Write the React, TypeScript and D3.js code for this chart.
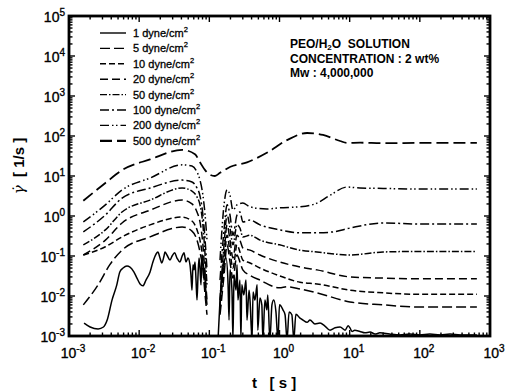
import React, { useEffect, useRef } from 'react';
import * as d3 from 'd3';

type Pt = [number, number];

// legend order (dyne/cm2)
const stressLabels = ['1', '5', '10', '20', '50', '100', '200', '500'];

// [t (s), shear rate (1/s)]
const g500: Pt[] = [[0.0016, 2.4], [0.0033, 6.7], [0.0057, 14], [0.0143, 26], [0.041, 45], [0.0625, 35], [0.0736, 22], [0.087, 14], [0.1, 11], [0.12, 10], [0.142, 12], [0.2, 17], [0.344, 22], [0.66, 38], [1.28, 79], [2.47, 119], [4.17, 106], [7.3, 75], [9.2, 67], [14, 68], [30, 66], [100, 67], [650, 67]];

const g200a: Pt[] = [[0.0016, 0.71], [0.0033, 1.9], [0.0057, 4.5], [0.0143, 8.9], [0.041, 19], [0.0566, 17.8], [0.0667, 12.6], [0.0736, 7.9], [0.081, 3.3], [0.087, 1.06], [0.0926, 0.25]];
const g200b: Pt[] = [[0.142, 0.079], [0.162, 1.9], [0.179, 4.5], [0.197, 3.3], [0.217, 1.4], [0.248, 1.9], [0.3, 2.1], [0.38, 1.7], [0.66, 1.5], [1.0, 1.6], [1.96, 1.7], [3.42, 2.1], [5.25, 3.3], [9.2, 5.3], [14, 5.0], [30, 4.9], [100, 4.7], [650, 4.7]];

const g100a: Pt[] = [[0.0016, 0.40], [0.0033, 1.06], [0.0057, 2.8], [0.0143, 5.0], [0.041, 7.9], [0.0566, 7.1], [0.0667, 5.0], [0.0736, 3.2], [0.081, 1.06], [0.087, 0.25], [0.0926, 0.045]];
const g100b: Pt[] = [[0.142, 0.025], [0.162, 0.45], [0.179, 1.9], [0.197, 1.06], [0.217, 0.33], [0.248, 1.06], [0.273, 1.26], [0.3, 0.71], [0.38, 0.79], [0.527, 0.6], [1.0, 0.45], [1.96, 0.38], [3.42, 0.38], [5.78, 0.40], [10.1, 0.5], [30, 0.67], [100, 0.63], [650, 0.63]];

const g50a: Pt[] = [[0.0016, 0.19], [0.0033, 0.45], [0.0057, 1.26], [0.0143, 2.5], [0.041, 5.0], [0.0566, 4.2], [0.0667, 3.0], [0.0736, 1.9], [0.081, 0.6], [0.087, 0.106], [0.0926, 0.019]];
const g50b: Pt[] = [[0.142, 0.0079], [0.162, 0.19], [0.179, 1.06], [0.197, 0.5], [0.217, 0.19], [0.248, 0.6], [0.273, 0.5], [0.3, 0.3], [0.38, 0.33], [0.527, 0.25], [1.0, 0.19], [1.96, 0.14], [3.42, 0.126], [10.1, 0.106], [30, 0.126], [100, 0.13], [650, 0.13]];

const g20a: Pt[] = [[0.0016, 0.106], [0.0033, 0.25], [0.0057, 0.67], [0.0143, 1.4], [0.041, 2.5], [0.0566, 2.0], [0.0667, 1.26], [0.0736, 0.71], [0.081, 0.19], [0.087, 0.033], [0.0926, 0.0079]];
const g20b: Pt[] = [[0.142, 0.006], [0.162, 0.106], [0.179, 0.6], [0.197, 0.25], [0.217, 0.089], [0.248, 0.33], [0.273, 0.25], [0.3, 0.16], [0.38, 0.14], [0.527, 0.106], [1.0, 0.071], [1.96, 0.053], [3.42, 0.045], [10.1, 0.03], [30, 0.028], [100, 0.027], [650, 0.027]];

const g10a: Pt[] = [[0.0016, 0.106], [0.0033, 0.17], [0.0057, 0.30], [0.0143, 0.6], [0.041, 0.94], [0.0566, 0.75], [0.0667, 0.45], [0.0736, 0.25], [0.081, 0.079], [0.087, 0.019], [0.0926, 0.006]];
const g10b: Pt[] = [[0.142, 0.0045], [0.162, 0.06], [0.179, 0.33], [0.197, 0.126], [0.217, 0.05], [0.248, 0.19], [0.273, 0.126], [0.3, 0.079], [0.38, 0.067], [0.527, 0.05], [1.0, 0.032], [1.96, 0.022], [3.42, 0.02], [10.1, 0.014], [30, 0.012], [100, 0.011], [650, 0.011]];

const g5a: Pt[] = [[0.0016, 0.006], [0.0026, 0.019], [0.0038, 0.06], [0.0057, 0.14], [0.0143, 0.30], [0.041, 0.53], [0.0566, 0.42], [0.0667, 0.25], [0.0736, 0.126], [0.081, 0.045], [0.087, 0.0106], [0.0926, 0.0034]];
const g5b: Pt[] = [[0.142, 0.0034], [0.162, 0.033], [0.179, 0.19], [0.197, 0.071], [0.217, 0.028], [0.248, 0.106], [0.273, 0.071], [0.3, 0.045], [0.38, 0.033], [0.527, 0.025], [1.0, 0.016], [1.28, 0.017], [1.96, 0.015], [3.42, 0.012], [10.1, 0.0071], [30, 0.006], [100, 0.0053], [650, 0.0053]];

const g1a: Pt[] = [[0.00164, 0.0021], [0.002, 0.00168], [0.0026, 0.0015], [0.0031, 0.00168], [0.0035, 0.0025], [0.0041, 0.0079], [0.0048, 0.019], [0.0053, 0.04], [0.0059, 0.05], [0.0067, 0.056], [0.0074, 0.053], [0.0084, 0.04], [0.0093, 0.028], [0.0103, 0.02], [0.0113, 0.018], [0.0125, 0.025], [0.0143, 0.04], [0.0157, 0.071], [0.0174, 0.112], [0.0185, 0.126], [0.0198, 0.089], [0.021, 0.067], [0.0226, 0.1], [0.0233, 0.126], [0.0249, 0.106], [0.0275, 0.079], [0.0295, 0.1], [0.032, 0.12], [0.0346, 0.089], [0.038, 0.071], [0.041, 0.1], [0.0435, 0.12], [0.0465, 0.071], [0.0496, 0.089], [0.053, 0.06], [0.0547, 0.033], [0.0566, 0.014], [0.0585, 0.06], [0.0605, 0.045], [0.0625, 0.071], [0.0646, 0.025], [0.0667, 0.0079], [0.069, 0.033], [0.0713, 0.089], [0.0736, 0.05], [0.076, 0.019], [0.0785, 0.106], [0.081, 0.071], [0.084, 0.025], [0.0867, 0.045], [0.0895, 0.0079]];
const g1b: Pt[] = [[0.133, 0.0008], [0.142, 0.0079], [0.151, 0.033], [0.162, 0.071], [0.173, 0.089], [0.185, 0.019], [0.191, 0.0025], [0.197, 0.045], [0.21, 0.014], [0.217, 0.0008], [0.225, 0.033], [0.24, 0.014], [0.248, 0.06], [0.256, 0.0079], [0.273, 0.025], [0.282, 0.0008], [0.29, 0.019], [0.31, 0.0106], [0.333, 0.025], [0.344, 0.0025], [0.368, 0.014], [0.38, 0.0079], [0.406, 0.0008], [0.42, 0.0126], [0.447, 0.0079], [0.48, 0.019], [0.49, 0.0014], [0.527, 0.0089], [0.56, 0.006], [0.58, 0.0008], [0.62, 0.0079], [0.66, 0.0045], [0.68, 0.0106], [0.73, 0.0008], [0.78, 0.006], [0.83, 0.0079], [0.89, 0.004], [0.95, 0.0008], [1.0, 0.006], [1.12, 0.0045], [1.2, 0.0034], [1.28, 0.0008], [1.37, 0.004], [1.5, 0.0034], [1.6, 0.0008], [1.71, 0.0035], [1.96, 0.0028], [2.16, 0.0025], [2.47, 0.0022], [2.72, 0.0025], [3.2, 0.002], [3.78, 0.0021], [4.4, 0.0018], [5.25, 0.0014], [6.2, 0.0016], [7.3, 0.00168], [8.6, 0.0014], [9.5, 0.0018], [10.1, 0.0016], [10.8, 0.0013], [11.8, 0.0014], [14, 0.0013], [16.5, 0.0012], [19.5, 0.00126], [23, 0.00112], [27, 0.0012], [37, 0.00112], [52, 0.00106], [72, 0.00112], [100, 0.00106], [139, 0.00112], [194, 0.00106], [270, 0.00112], [375, 0.00106], [650, 0.00106]];

const series: { label: string; parts: Pt[][] }[] = [
  { label: '1', parts: [g1a, g1b] },
  { label: '5', parts: [g5a, g5b] },
  { label: '10', parts: [g10a, g10b] },
  { label: '20', parts: [g20a, g20b] },
  { label: '50', parts: [g50a, g50b] },
  { label: '100', parts: [g100a, g100b] },
  { label: '200', parts: [g200a, g200b] },
  { label: '500', parts: [g500] },
];

const noteLines = ['CONCENTRATION : 2 wt%', 'Mw : 4,000,000'];

const dashes: Record<string, string> = {
  '1': 'none',
  '5': '10,4',
  '10': '6,3',
  '20': '8,4',
  '50': '7,2,1.5,2',
  '100': '9,3,2,3',
  '200': '9,3,1.5,2.5,1.5,3',
  '500': '12,5',
};

const FONT = '"Liberation Sans", Arial, sans-serif';

const App = () => {
  const ref = useRef<SVGSVGElement>(null);

  useEffect(() => {
    const svg = d3.select(ref.current);
    svg.selectAll('*').remove();

    const left = 69, right = 490, top = 16, bottom = 336;
    const x = d3.scaleLog().domain([1e-3, 1e3]).range([left, right]);
    const y = d3.scaleLog().domain([1e-3, 1e5]).range([bottom, top]);

    svg.append('rect').attr('width', 511).attr('height', 391).attr('fill', '#fff');

    svg.append('defs').append('clipPath').attr('id', 'plotclip')
      .append('rect')
      .attr('x', left).attr('y', top)
      .attr('width', right - left).attr('height', bottom - top);

    const line = d3.line<Pt>()
      .x(d => x(d[0]))
      .y(d => y(d[1]))
      .curve(d3.curveMonotoneX);

    // curves
    const plot = svg.append('g').attr('clip-path', 'url(#plotclip)');
    series.forEach(s => {
      s.parts.forEach(p => {
        plot.append('path')
          .attr('d', line(p))
          .attr('fill', 'none')
          .attr('stroke', '#000')
          .attr('stroke-width', s.label === '500' ? 1.8 : 1.5)
          .attr('stroke-dasharray', dashes[s.label]);
      });
    });

    const isMajor = (v: number) => Math.abs(Math.log10(v) - Math.round(Math.log10(v))) < 1e-6;

    // ticks on all four sides, pointing in
    const ticks = svg.append('g').attr('stroke', '#000').attr('stroke-width', 1.4);
    x.ticks().forEach(v => {
      const len = isMajor(v) ? 6 : 3.5;
      const px = x(v);
      ticks.append('line').attr('x1', px).attr('x2', px).attr('y1', bottom).attr('y2', bottom - len);
      ticks.append('line').attr('x1', px).attr('x2', px).attr('y1', top).attr('y2', top + len);
    });
    y.ticks().forEach(v => {
      const len = isMajor(v) ? 6 : 3.5;
      const py = y(v);
      ticks.append('line').attr('y1', py).attr('y2', py).attr('x1', left).attr('x2', left + len);
      ticks.append('line').attr('y1', py).attr('y2', py).attr('x1', right).attr('x2', right - len);
    });

    // frame
    svg.append('rect')
      .attr('x', left).attr('y', top)
      .attr('width', right - left).attr('height', bottom - top)
      .attr('fill', 'none').attr('stroke', '#000').attr('stroke-width', 2.8);

    // tick labels
    const labels = svg.append('g')
      .attr('font-family', FONT).attr('fill', '#000')
      .attr('stroke', '#000').attr('stroke-width', 0.35);
    x.ticks().filter(isMajor).forEach(v => {
      const t = labels.append('text')
        .attr('x', x(v) + 4).attr('y', 358)
        .attr('text-anchor', 'middle').attr('font-size', 14);
      t.append('tspan').text('10');
      t.append('tspan').attr('dy', -6).attr('font-size', 10).text(String(Math.round(Math.log10(v))));
    });
    y.ticks().filter(isMajor).forEach(v => {
      const t = labels.append('text')
        .attr('x', 65).attr('y', y(v) + 6)
        .attr('text-anchor', 'end').attr('font-size', 14);
      t.append('tspan').text('10');
      t.append('tspan').attr('dy', -6).attr('font-size', 10).text(String(Math.round(Math.log10(v))));
    });

    // axis titles
    svg.append('text')
      .attr('x', 252).attr('y', 388)
      .attr('font-family', FONT).attr('font-size', 15).attr('font-weight', 'bold')
      .attr('xml:space', 'preserve')
      .text('t   [ s ]');

    const yt = svg.append('text')
      .attr('transform', 'translate(24,166) rotate(-90)')
      .attr('text-anchor', 'middle')
      .attr('font-family', FONT).attr('font-size', 15)
      .attr('xml:space', 'preserve');
    yt.append('tspan').attr('font-style', 'italic').attr('font-family', '"DejaVu Serif", serif').text('\u03B3\u0307');
    yt.append('tspan').attr('font-weight', 'bold').text('  [ 1/s ]');

    // legend
    const legend = svg.append('g').attr('font-family', FONT);
    stressLabels.forEach((lab, i) => {
      const ly = 33 + i * 15.4;
      legend.append('line')
        .attr('x1', 100).attr('x2', 126).attr('y1', ly).attr('y2', ly)
        .attr('stroke', '#000')
        .attr('stroke-width', lab === '500' ? 2.2 : 1.4)
        .attr('stroke-dasharray', dashes[lab]);
      const t = legend.append('text').attr('x', 133).attr('y', ly + 4).attr('font-size', 11)
        .attr('stroke', '#000').attr('stroke-width', 0.3);
      t.append('tspan').text(`${lab} dyne/cm`);
      t.append('tspan').attr('dy', -5).attr('font-size', 7.5).text('2');
    });

    // note
    const note = svg.append('g').attr('font-family', FONT).attr('font-size', 12).attr('font-weight', 'bold');
    const n1 = note.append('text').attr('x', 290).attr('y', 48).attr('xml:space', 'preserve');
    n1.append('tspan').text('PEO/H');
    n1.append('tspan').attr('dy', 2).attr('font-size', 8).text('2');
    n1.append('tspan').attr('dy', -2).text('O  SOLUTION');
    noteLines.forEach((s, i) => {
      note.append('text').attr('x', 290).attr('y', 63 + i * 13.5).text(s);
    });
  }, []);

  return (
    <svg
      ref={ref}
      width={511}
      height={391}
      style={{ position: 'absolute', left: 0, top: 0, background: '#fff' }}
    />
  );
};

export default App;
